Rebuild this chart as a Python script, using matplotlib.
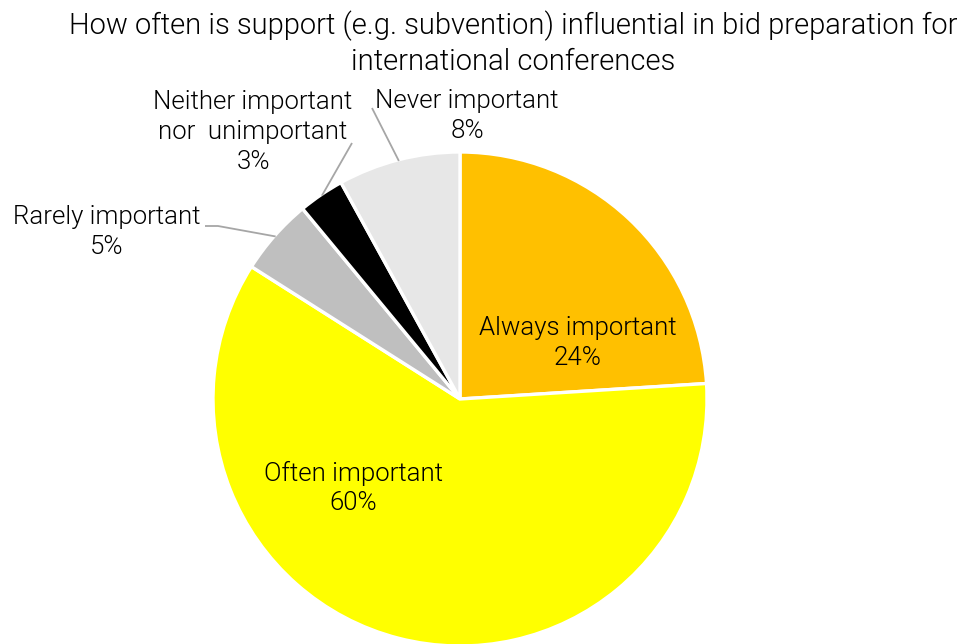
import numpy as np
import matplotlib.pyplot as plt
from matplotlib import font_manager

# Datos de la encuesta
categorias = ["Always important", "Often important", "Rarely important",
              "Neither important\nnor  unimportant", "Never important"]
porcentajes = [24, 60, 5, 3, 8]
colores = ["#FFC000", "#FFFF00", "#BFBFBF", "#000000", "#E7E7E7"]

titulo = ("How often is support (e.g. subvention) influential in bid preparation for\n"
          "international conferences")

# Buscar una fuente ligera (estilo Helvetica Light)
familia = "DejaVu Sans"
peso = "normal"
for fam in ["Roboto", "Lato", "Open Sans", "Inter", "Noto Sans"]:
    ligeras = [f for f in font_manager.fontManager.ttflist
               if f.name == fam and isinstance(f.weight, int) and f.weight <= 300]
    if ligeras:
        familia = fam
        peso = ligeras[0].weight
        break
plt.rcParams['font.family'] = [familia, 'DejaVu Sans']
plt.rcParams['font.weight'] = peso

W, H = 962, 644
R = 247.0          # radio en pixeles
cx, cy = 460, 399  # centro en pixeles


def px(x, y):
    # pixeles -> coordenadas del eje (radio 1)
    return (x - cx) / R, (cy - y) / R


fig = plt.figure(figsize=(W / 100, H / 100), dpi=100)
ax = fig.add_axes([0, 0, 1, 1])

wedges, _ = ax.pie(porcentajes, colors=colores, startangle=90, counterclock=False,
                   radius=1.0, center=(0, 0), frame=True,
                   wedgeprops=dict(edgecolor='white', linewidth=2.4))
ax.set_xlim(-cx / R, (W - cx) / R)
ax.set_ylim(-(H - cy) / R, cy / R)
ax.set_aspect('equal')
ax.axis('off')

fs = 18.6
# Posiciones de las etiquetas
pos_etiquetas = {
    0: (578, 343),
    1: (353, 488),
    2: (107, 232),
    3: (253, 132),
    4: (467, 116),
}
for i, (x, y) in pos_etiquetas.items():
    tx, ty = px(x, y)
    ax.text(tx, ty, f"{categorias[i]}\n{porcentajes[i]}%", ha='center', va='center',
            fontsize=fs, linespacing=1.3, color='black')

# Líneas guía para las porciones pequeñas
inicio_guia = {2: [(205, 226), (218, 226)], 3: [(352, 143)], 4: [(372, 108)]}
for i, puntos in inicio_guia.items():
    w = wedges[i]
    ang = np.deg2rad((w.theta1 + w.theta2) / 2)
    fin = (np.cos(ang) * 0.995, np.sin(ang) * 0.995)
    xs = [px(*p)[0] for p in puntos] + [fin[0]]
    ys = [px(*p)[1] for p in puntos] + [fin[1]]
    ax.plot(xs, ys, color='#A6A6A6', lw=1.3, solid_capstyle='butt')

tx, ty = px(513, 43)
ax.text(tx, ty, titulo, ha='center', va='center', fontsize=21, linespacing=1.3)

fig.savefig('out.png', dpi=100)
